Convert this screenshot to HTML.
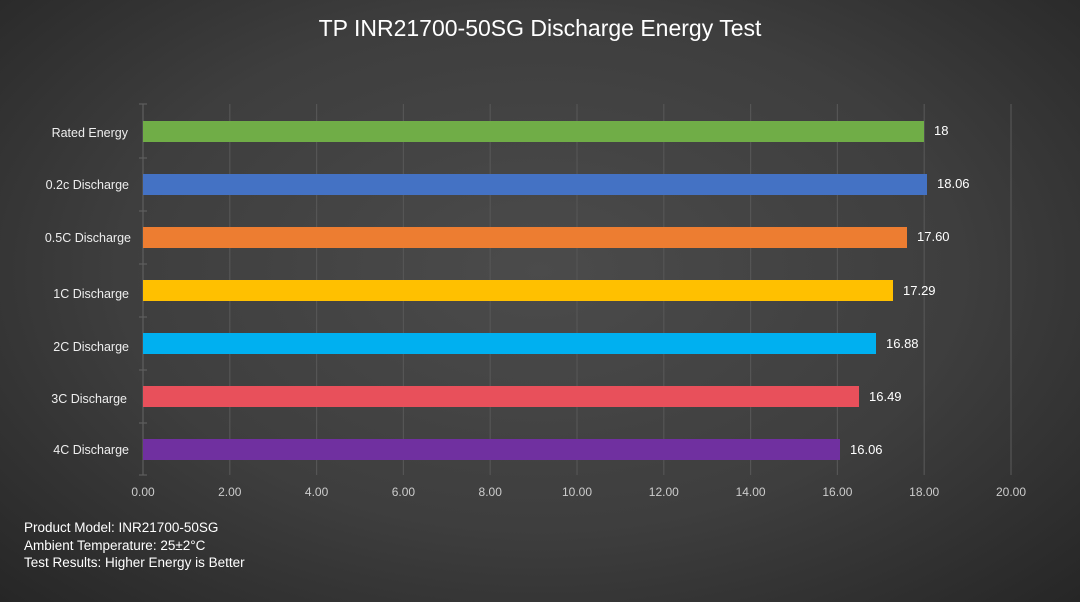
<!DOCTYPE html>
<html><head><meta charset="utf-8"><style>
html,body{margin:0;padding:0;}
body{width:1080px;height:602px;overflow:hidden;background:radial-gradient(ellipse at 50% 45%,#4b4b4b 0%,#3e3e3e 55%,#262626 100%);font-family:"Liberation Sans",sans-serif;}
</style></head><body>
<svg width="1080" height="602" xmlns="http://www.w3.org/2000/svg" style="position:absolute;left:0;top:0">
<text x="540" y="36" fill="#ffffff" font-size="23" text-anchor="middle" font-family="Liberation Sans, sans-serif">TP INR21700-50SG Discharge Energy Test</text>
<g stroke="#555555" stroke-width="1.2">
<line x1="229.8" y1="104" x2="229.8" y2="475"/><line x1="316.6" y1="104" x2="316.6" y2="475"/>
<line x1="403.4" y1="104" x2="403.4" y2="475"/><line x1="490.2" y1="104" x2="490.2" y2="475"/>
<line x1="577" y1="104" x2="577" y2="475"/><line x1="663.8" y1="104" x2="663.8" y2="475"/>
<line x1="750.6" y1="104" x2="750.6" y2="475"/><line x1="837.4" y1="104" x2="837.4" y2="475"/>
<line x1="924.2" y1="104" x2="924.2" y2="475"/><line x1="1011" y1="104" x2="1011" y2="475"/>
</g>
<g stroke="#5e5e5e" stroke-width="1.2">
<line x1="143" y1="104" x2="143" y2="475"/>
<line x1="139" y1="104" x2="147" y2="104"/><line x1="139" y1="158" x2="147" y2="158"/>
<line x1="139" y1="211" x2="147" y2="211"/><line x1="139" y1="264" x2="147" y2="264"/>
<line x1="139" y1="317" x2="147" y2="317"/><line x1="139" y1="370" x2="147" y2="370"/>
<line x1="139" y1="423" x2="147" y2="423"/><line x1="139" y1="475" x2="147" y2="475"/>
</g>
<rect x="143" y="121" width="781" height="21" fill="#70ad47"/>
<rect x="143" y="174" width="784" height="21" fill="#4472c4"/>
<rect x="143" y="227" width="764" height="21" fill="#ed7d31"/>
<rect x="143" y="280" width="750" height="21" fill="#ffc000"/>
<rect x="143" y="333" width="733" height="21" fill="#00b0f0"/>
<rect x="143" y="386" width="716" height="21" fill="#e8505b"/>
<rect x="143" y="439" width="697" height="21" fill="#7030a0"/>
<g fill="#ffffff" font-size="13">
<text x="934" y="135">18</text><text x="937" y="188">18.06</text>
<text x="917" y="241">17.60</text><text x="903" y="295">17.29</text>
<text x="886" y="348">16.88</text><text x="869" y="401">16.49</text>
<text x="850" y="454">16.06</text>
</g>
<g fill="#eeeeee" font-size="12.5" text-anchor="end">
<text x="128" y="137">Rated Energy</text><text x="129" y="189">0.2c Discharge</text>
<text x="131" y="242">0.5C Discharge</text><text x="129" y="298">1C Discharge</text>
<text x="129" y="351">2C Discharge</text><text x="127" y="403">3C Discharge</text>
<text x="129" y="454">4C Discharge</text>
</g>
<g fill="#cccccc" font-size="12" text-anchor="middle">
<text x="143" y="496">0.00</text><text x="229.8" y="496">2.00</text><text x="316.6" y="496">4.00</text>
<text x="403.4" y="496">6.00</text><text x="490.2" y="496">8.00</text><text x="577" y="496">10.00</text>
<text x="663.8" y="496">12.00</text><text x="750.6" y="496">14.00</text><text x="837.4" y="496">16.00</text>
<text x="924.2" y="496">18.00</text><text x="1011" y="496">20.00</text>
</g>
<g fill="#ffffff" font-size="13.5">
<text x="24" y="532">Product Model: INR21700-50SG</text>
<text x="24" y="550">Ambient Temperature: 25±2°C</text>
<text x="24" y="567">Test Results: Higher Energy is Better</text>
</g>
</svg>
</body></html>
